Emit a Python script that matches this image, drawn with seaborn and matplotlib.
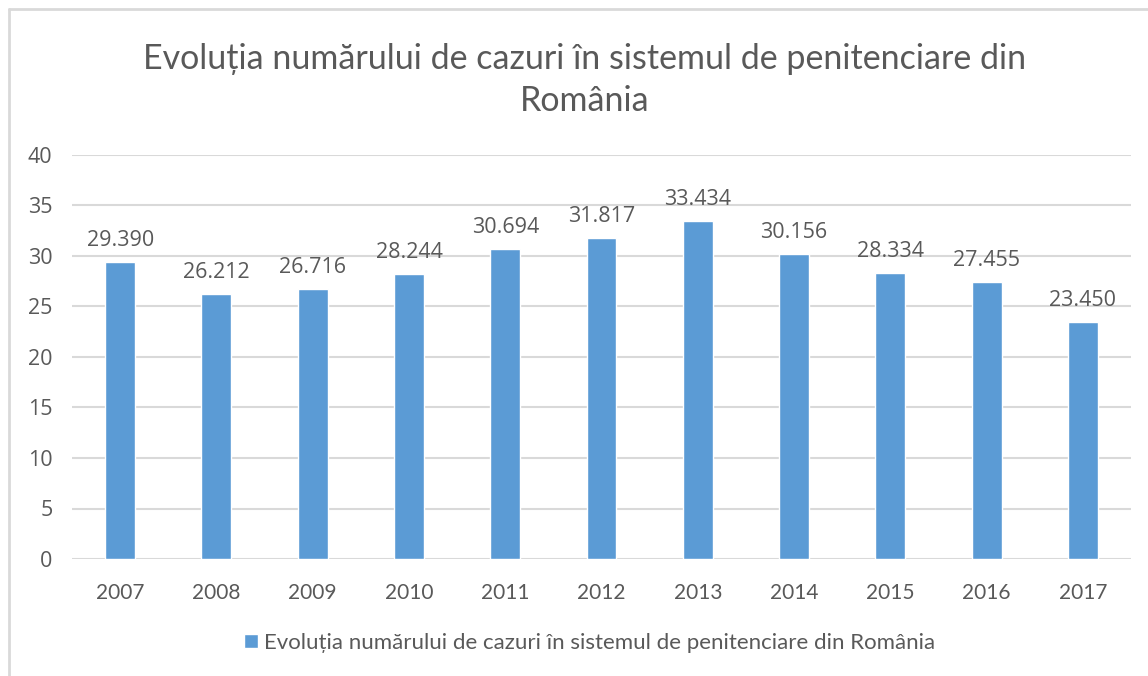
import matplotlib
matplotlib.use("Agg")
import matplotlib.pyplot as plt
import seaborn as sns
import pandas as pd
from matplotlib.lines import Line2D

years = ["2007", "2008", "2009", "2010", "2011", "2012", "2013", "2014", "2015", "2016", "2017"]
values = [29.390, 26.212, 26.716, 28.244, 30.694, 31.817, 33.434, 30.156, 28.334, 27.455, 23.450]
series_name = "Evoluția numărului de cazuri în sistemul de penitenciare din România"
title_text = "Evoluția numărului de cazuri în sistemul de penitenciare din\nRomânia"
y_ticks = [0, 5, 10, 15, 20, 25, 30, 35, 40]

BAR = "#5B9BD5"
TXT = "#595959"
GRID = "#D9D9D9"

sns.set_theme(style="white")
plt.rcParams["font.family"] = ["Lato", "DejaVu Sans"]

W, H = 1148, 676
fig = plt.figure(figsize=(W / 100, H / 100), dpi=100)
ax = fig.add_axes([72 / W, 1 - 559 / H, (1131 - 72) / W, (559 - 155) / H])

df = pd.DataFrame({"year": years, "value": values})
sns.barplot(data=df, x="year", y="value", color=BAR, width=0.31, ax=ax,
            label=series_name, saturation=1)

ax.set_ylim(0, 40)
ax.set_xlim(-0.5, len(years) - 0.5)
ax.set_yticks(y_ticks)
ax.set_yticklabels([str(t) for t in y_ticks], fontfamily="Open Sans", fontsize=15.5, color=TXT)
ax.set_xticks(range(len(years)))
ax.set_xticklabels(years, fontsize=15, color=TXT)
ax.tick_params(axis="both", length=0)
ax.tick_params(axis="x", pad=17)
ax.tick_params(axis="y", pad=14)
ax.set_xlabel("")
ax.set_ylabel("")
for s in ax.spines.values():
    s.set_visible(False)
ax.grid(axis="y", color=GRID, linewidth=1.5)
ax.set_axisbelow(True)

for c in ax.containers:
    ax.bar_label(c, labels=[f"{v:.3f}" for v in values], padding=8,
                 fontfamily="Open Sans", fontsize=15.5, color=TXT)

fig.text(585 / W, 1 - 80 / H, title_text, ha="center", va="center",
         fontsize=24.5, color=TXT, linespacing=1.42)

leg = ax.legend(loc="center", bbox_to_anchor=(590 / W, 1 - 643 / H),
                bbox_transform=fig.transFigure, frameon=False, fontsize=16,
                handlelength=0.6, handleheight=0.6, handletextpad=0.3)
for t in leg.get_texts():
    t.set_color(TXT)

fig.add_artist(Line2D([9 / W, 9 / W], [0, 1 - 9 / H], color=GRID, linewidth=2, transform=fig.transFigure))
fig.add_artist(Line2D([9 / W, 1], [1 - 9 / H, 1 - 9 / H], color=GRID, linewidth=2, transform=fig.transFigure))

fig.savefig("out.png", dpi=100)
